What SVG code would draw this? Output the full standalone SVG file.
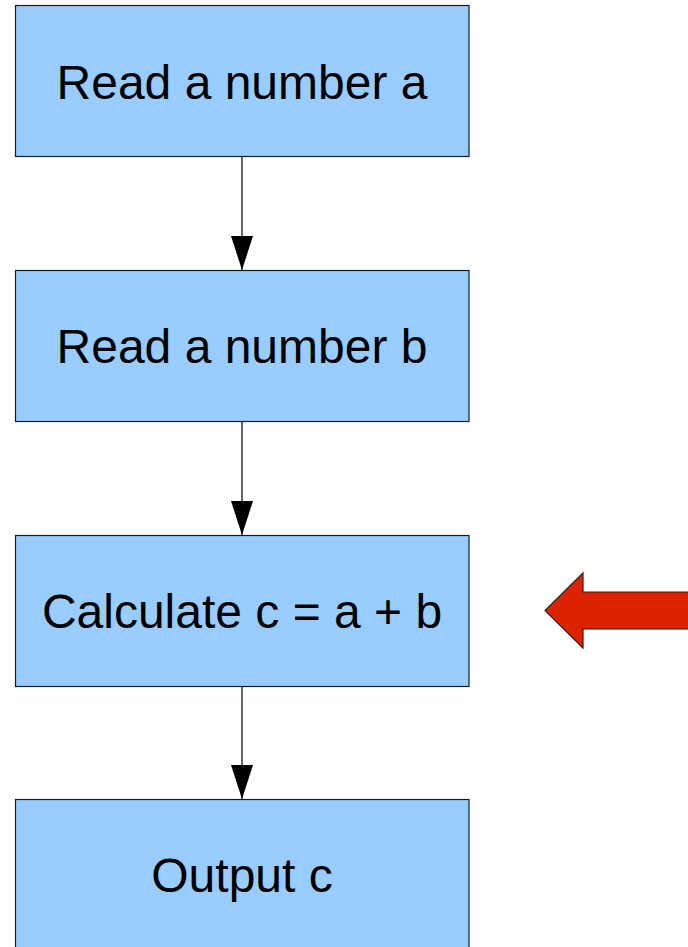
<svg xmlns="http://www.w3.org/2000/svg" width="688" height="947" viewBox="0 0 688 947">
<style>
.box{fill:#99ccff;stroke:#1a1a1a;stroke-width:1.2}
.lbl{font-family:"Liberation Sans",Arial,sans-serif;font-size:48px;fill:#000;text-anchor:middle}
.conn{stroke:#000;stroke-width:1.2;fill:none;marker-end:url(#ah)}
</style>
<defs>
<marker id="ah" viewBox="0 0 34 22" refX="34" refY="11" markerWidth="34" markerHeight="22" markerUnits="userSpaceOnUse" orient="auto">
<path d="M0,0 L34,11 L0,22 Z" fill="#000"/>
</marker>
</defs>
<g id="n1"><rect class="box" x="15.5" y="5.5" width="453.5" height="151"/><text class="lbl" x="242" y="99">Read a number a</text></g>
<g id="n2"><rect class="box" x="15.5" y="270.5" width="453.5" height="151"/><text class="lbl" x="242" y="363">Read a number b</text></g>
<g id="n3"><rect class="box" x="15.5" y="535.5" width="453.5" height="151"/><text class="lbl" x="242" y="628">Calculate c = a + b</text></g>
<g id="n4"><rect class="box" x="15.5" y="799.5" width="453.5" height="160"/><text class="lbl" x="242" y="892">Output c</text></g>
<g id="connectors">
<line class="conn" x1="242" y1="157" x2="242" y2="270"/>
<line class="conn" x1="242" y1="422" x2="242" y2="535"/>
<line class="conn" x1="242" y1="687" x2="242" y2="799"/>
</g>
<g id="red-arrow">
<path d="M700,592 L583,592 L583,573 L545,610.5 L583,648 L583,629 L700,629 Z" fill="#dd2200" stroke="#3a1a10" stroke-width="1.2"/>
</g>
</svg>
